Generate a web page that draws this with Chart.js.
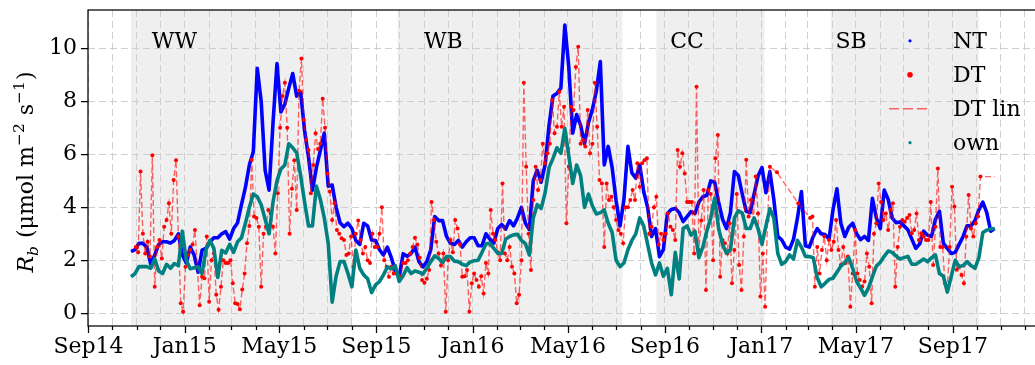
<!DOCTYPE html>
<html>
<head>
<meta charset="utf-8">
<script src="https://cdn.jsdelivr.net/npm/chart.js@4.4.1/dist/chart.umd.min.js"></script>
<style>
  html, body { margin: 0; padding: 0; background: #fff; overflow: hidden; width: 1035px; height: 365px; }
  canvas { display: block; }
</style>
</head>
<body>
<canvas id="rb" width="1044" height="365"></canvas>
<script>
// ---- Daily-aggregated ecosystem respiration R_b, three partitioning methods ----

// first date of the NT / own / DT records; NT and own every 5 days, DT every 3 days
const seriesStart = '2014-10-25';
const lineStepDays = 5;
const dtStepDays = 3;
// DT lin is held flat from the last DT value to the end of the record
const dtLinEnd = '2017-10-24';

const ntValues = [
  2.33,2.4,2.64,2.64,2.5,1.85,2.2,2.6,2.7,2.7,
  2.65,2.75,3.0,2.2,1.9,2.5,2.2,1.55,2.38,2.45,
  2.7,2.85,2.85,3.0,3.08,2.8,3.2,3.41,4.1,4.75,
  5.6,6.1,9.25,8.0,5.4,4.65,7.2,9.43,7.6,7.9,
  8.5,9.05,8.2,8.35,6.9,5.9,4.65,5.5,6.15,6.8,
  4.8,4.84,4.0,3.42,3.27,3.4,3.2,2.75,2.6,3.4,
  3.3,2.77,2.75,2.4,2.2,2.5,2.1,1.6,1.38,2.25,
  2.15,2.25,2.5,1.95,1.75,1.95,2.4,3.65,3.5,3.5,
  2.9,2.64,2.6,2.75,2.5,2.7,2.85,2.85,2.55,2.55,
  3.0,2.8,2.65,3.2,3.35,3.18,3.5,3.3,3.6,4.0,
  3.4,3.16,5.0,5.4,4.95,5.6,7.1,8.2,8.3,8.5,
  10.88,9.3,6.8,7.5,7.1,6.4,7.2,7.7,8.4,9.5,
  5.6,6.3,5.5,4.25,3.3,4.3,6.3,5.3,5.1,5.6,
  4.6,4.0,2.9,3.2,2.14,2.4,3.77,3.92,3.96,3.8,
  3.46,3.65,3.84,3.77,4.2,4.4,4.45,5.0,4.95,4.2,
  3.55,3.2,3.8,5.35,5.2,4.5,3.85,3.8,4.5,5.18,
  5.5,4.55,5.35,4.3,2.9,2.77,2.5,2.42,2.8,3.6,
  4.6,2.55,2.5,2.9,3.2,3.0,2.97,2.8,3.9,4.7,
  3.4,2.9,3.25,3.4,3.0,2.78,2.9,2.75,4.34,3.6,
  3.2,4.65,4.3,3.6,3.42,3.45,3.3,3.15,2.8,2.45,
  2.62,3.1,2.95,2.9,3.55,3.85,2.64,2.45,2.26,2.3,
  2.6,2.9,3.3,3.3,3.5,3.9,4.2,3.8,3.1,3.2
];

const ownValues = [
  1.38,1.5,1.76,1.76,1.76,1.7,2.05,1.6,1.5,1.85,
  1.7,1.88,1.8,3.1,2.0,1.68,1.72,1.76,1.5,2.4,
  2.75,2.45,1.35,2.38,2.28,2.6,2.3,2.7,2.85,3.4,
  4.0,4.5,4.4,4.1,3.55,3.0,4.2,5.0,5.45,5.6,
  6.4,6.25,6.05,5.2,4.2,3.3,3.3,4.8,4.3,3.6,
  2.64,0.42,1.4,1.95,1.95,1.5,1.0,2.39,1.7,1.45,
  1.3,0.78,1.07,1.2,1.45,1.75,1.68,1.8,1.2,1.42,
  1.72,1.5,1.6,1.55,1.48,1.7,1.95,2.17,2.07,1.92,
  2.14,2.14,1.97,1.95,1.85,1.8,1.94,1.98,2.0,2.3,
  2.62,2.64,2.45,2.26,2.26,2.8,2.9,2.96,2.98,2.75,
  2.63,2.2,3.6,4.1,3.96,4.55,5.5,5.85,6.25,6.04,
  6.98,5.95,4.9,5.6,5.2,4.0,4.5,4.05,3.75,3.8,
  3.9,3.4,3.05,2.0,1.76,1.9,2.4,2.75,3.0,3.6,
  3.3,2.6,1.9,1.45,1.9,1.4,1.7,0.7,2.3,1.3,
  3.2,3.3,2.95,3.1,2.1,2.5,3.1,3.6,4.35,3.2,
  2.6,2.27,2.4,3.6,3.87,3.78,3.2,3.2,3.6,3.2,
  2.6,3.3,3.95,3.6,2.26,1.85,1.95,2.2,2.05,2.75,
  2.5,2.15,2.14,2.1,1.35,1.0,1.13,1.28,1.32,1.55,
  1.78,1.92,2.1,1.7,1.2,0.95,0.68,0.95,1.38,1.78,
  1.93,2.15,2.35,2.3,2.16,2.05,2.1,2.15,1.85,1.85,
  1.95,2.05,1.95,2.1,2.2,1.5,1.4,0.8,1.4,2.0,
  1.76,1.8,1.95,1.8,1.7,2.1,3.05,3.14,3.18,3.2
];

// null = no valid DT estimate on that day
const dtValues = [
  null,null,2.5,2.3,5.35,3.0,2.26,2.7,2.14,5.97,
  1.0,2.5,2.77,2.07,3.27,3.52,4.15,3.0,5.03,5.78,
  2.9,0.38,0.06,1.76,2.2,2.39,2.6,3.14,1.76,0.3,
  1.38,1.32,2.9,0.44,2.0,2.26,0.7,0.13,1.0,2.0,
  1.9,1.9,2.0,1.13,0.38,0.35,0.15,0.9,1.5,2.64,
  3.3,5.8,3.65,3.6,3.27,1.0,3.0,3.27,3.9,3.77,
  3.27,2.26,4.53,7.0,8.2,8.7,7.0,3.0,4.7,5.78,
  3.9,8.4,9.62,7.3,6.54,6.16,4.53,5.6,6.8,6.2,
  6.4,8.1,7.0,5.28,4.6,3.52,4.15,3.14,3.0,2.83,
  2.77,2.2,2.26,2.9,1.76,3.0,3.5,2.77,2.26,2.5,
  2.0,1.9,3.0,2.5,2.5,3.0,4.0,2.0,1.76,1.38,
  1.76,1.5,1.5,1.45,1.38,1.9,1.9,2.0,2.26,2.5,
  2.85,2.6,2.1,1.26,1.15,1.3,1.63,4.2,3.52,2.7,
  2.26,1.8,2.26,0.06,2.0,2.77,2.3,3.52,3.2,2.6,
  1.38,1.4,1.63,0.06,1.13,1.5,1.26,1.0,1.4,0.75,
  1.9,1.5,3.9,3.0,2.77,2.3,2.0,4.9,2.26,2.0,
  2.5,1.76,1.5,0.38,0.7,2.0,8.7,5.53,3.0,1.63,
  4.28,5.53,4.65,5.03,6.4,5.66,6.04,6.4,8.05,6.8,
  7.04,8.36,7.04,7.8,3.4,5.53,7.8,7.67,9.3,10.06,
  6.4,6.54,6.3,7.67,6.04,6.4,8.7,7.04,5.03,4.9,
  2.5,4.9,4.28,4.4,4.0,3.52,3.14,3.0,2.64,4.0,
  4.0,4.28,4.65,4.28,5.66,4.78,5.66,5.78,5.85,3.0,
  3.27,4.0,4.4,2.6,3.0,2.77,3.0,3.77,3.27,3.14,
  2.77,6.16,5.53,6.04,5.28,4.2,4.2,4.2,2.26,8.55,
  2.39,3.5,4.65,0.88,4.65,4.5,2.0,5.85,6.73,1.38,
  2.77,2.64,2.26,3.4,1.13,2.39,4.5,1.82,0.88,2.9,
  5.8,3.65,4.28,3.5,5.16,3.77,0.63,2.26,0.25,3.5,
  5.53,null,null,5.32,null,null,null,null,null,null,
  null,null,4.15,null,null,null,null,3.6,3.65,1.0,
  2.5,1.5,2.39,2.9,2.0,2.77,2.39,2.7,3.52,2.39,
  1.82,2.5,1.9,2.14,0.25,1.5,3.14,1.5,1.26,1.0,
  1.2,2.26,1.76,0.38,3.0,3.4,4.9,4.2,3.52,3.77,
  3.14,3.9,4.15,1.0,2.5,3.27,3.52,3.46,3.6,3.71,
  3.02,3.14,3.77,2.77,3.02,2.9,2.77,2.77,4.2,1.82,
  3.27,5.47,2.5,2.5,1.13,1.0,2.5,4.78,4.03,1.64,
  1.76,1.45,1.13,2.9,4.47,3.2,2.9,3.4,3.65,5.16
];

// crop periods (shaded)
const periodLabels = ['WW', 'WB', 'CC', 'SB'];
const periodStarts = ['2014-10-25', '2015-09-28', '2016-08-21', '2017-03-30'];
const periodEnds   = ['2015-08-01', '2016-07-09', '2017-01-05', '2017-10-04'];
const periodLabelDates = ['2014-12-19', '2015-11-25', '2016-09-29', '2017-04-25'];

// axis ticks
const xTickDates  = ['2014-09-01','2015-01-01','2015-05-01','2015-09-01','2016-01-01',
                     '2016-05-01','2016-09-01','2017-01-01','2017-05-01','2017-09-01'];
const xTickLabels = ['Sep14','Jan15','May15','Sep15','Jan16','May16','Sep16','Jan17','May17','Sep17'];
const yTicks = [0, 2, 4, 6, 8, 10];
const legendLabels = ['NT', 'DT', 'DT lin', 'own'];

// ---- helpers ----
const DAY_MS = 86400000;
const ORIGIN = Date.UTC(2014, 8, 1);
function dayOf(iso) {
  const [y, m, d] = iso.split('-').map(Number);
  return (Date.UTC(y, m - 1, d) - ORIGIN) / DAY_MS;
}
const startDay = dayOf(seriesStart);
const ntPts  = ntValues.map((v, i) => ({ x: startDay + i * lineStepDays, y: v }));
const ownPts = ownValues.map((v, i) => ({ x: startDay + i * lineStepDays, y: v }));
const dtPts  = dtValues.map((v, i) => ({ x: startDay + i * dtStepDays, y: v }));
let lastDt = null;
dtValues.forEach(v => { if (v !== null) lastDt = v; });
const dtLinPts = dtPts.concat([{ x: dayOf(dtLinEnd), y: lastDt }]);

// monthly ticks over the axis span
const monthTicks = [];
for (let y = 2014, m = 8; y < 2018; ) {
  const iso = `${y}-${String(m + 1).padStart(2, '0')}-01`;
  monthTicks.push({ value: dayOf(iso), major: xTickDates.includes(iso), iso });
  m++; if (m === 12) { m = 0; y++; }
}
const labelByDay = new Map(xTickDates.map((d, i) => [dayOf(d), xTickLabels[i]]));

const FONT = "'DejaVu Serif'";
const BLUE = '#0000ff', RED = '#ff0000', TEAL = '#008080';
const GRID = '#cfcfcf';

const periodShading = {
  id: 'periodShading',
  beforeDraw(chart) {
    const { ctx, chartArea: a, scales: { x } } = chart;
    ctx.save();
    ctx.fillStyle = '#efefef';
    periodLabels.forEach((_, i) => {
      const x0 = x.getPixelForValue(dayOf(periodStarts[i]));
      const x1 = x.getPixelForValue(dayOf(periodEnds[i]));
      ctx.fillRect(x0, a.top, x1 - x0, a.bottom - a.top);
    });
    ctx.restore();
  }
};

const frameAndText = {
  id: 'frameAndText',
  afterDatasetsDraw(chart) {
    const { ctx, chartArea: a, scales: { x, y } } = chart;
    ctx.save();
    // period names
    ctx.fillStyle = '#000';
    ctx.font = `22px ${FONT}`;
    ctx.textAlign = 'center';
    ctx.textBaseline = 'alphabetic';
    periodLabels.forEach((t, i) => {
      ctx.fillText(t, x.getPixelForValue(dayOf(periodLabelDates[i])), y.getPixelForValue(10));
    });

    // legend
    const mx = 910, tx = 953;
    const bases = [48.3, 82.3, 116.3, 150.2];
    ctx.textAlign = 'left';
    legendLabels.forEach((t, i) => {
      const my = bases[i] - 7.5;
      if (t === 'DT lin') {
        ctx.save();
        ctx.strokeStyle = 'rgba(255,0,0,0.6)';
        ctx.lineWidth = 1.6;
        ctx.setLineDash([10, 4]);
        ctx.beginPath(); ctx.moveTo(889, my); ctx.lineTo(930, my); ctx.stroke();
        ctx.restore();
      } else {
        const col = t === 'NT' ? BLUE : t === 'DT' ? RED : TEAL;
        const r = t === 'DT' ? 2.8 : 1.6;
        ctx.fillStyle = col;
        ctx.beginPath(); ctx.arc(mx, my, r, 0, Math.PI * 2); ctx.fill();
      }
      ctx.fillStyle = '#000';
      ctx.fillText(t, tx, bases[i]);
    });

    // frame and tick marks
    ctx.strokeStyle = '#000';
    ctx.lineWidth = 1.25;
    ctx.setLineDash([]);
    ctx.strokeRect(a.left, a.top, a.right - a.left, a.bottom - a.top);
    ctx.beginPath();
    monthTicks.forEach(t => {
      const px = Math.round(x.getPixelForValue(t.value)) + 0.5;
      ctx.moveTo(px, a.bottom);
      ctx.lineTo(px, a.bottom + (t.major ? 7 : 4));
    });
    yTicks.forEach(v => {
      const py = Math.round(y.getPixelForValue(v)) + 0.5;
      ctx.moveTo(a.left - 7, py);
      ctx.lineTo(a.left, py);
    });
    ctx.stroke();

    // y-axis title: R_b (μmol m^-2 s^-1)
    const parts = [
      ['R', `italic 22px ${FONT}`, 0],
      ['b', `italic 15.5px ${FONT}`, 4.5],
      [' (\u03bcmol m', `22px ${FONT}`, 0],
      ['\u22122', `15.5px ${FONT}`, -9],
      [' s', `22px ${FONT}`, 0],
      ['\u22121', `15.5px ${FONT}`, -9],
      [')', `22px ${FONT}`, 0]
    ];
    let total = 0;
    parts.forEach(p => { ctx.font = p[1]; total += ctx.measureText(p[0]).width + (p[2] ? 1 : 0); });
    ctx.translate(33, (a.top + a.bottom) / 2 + 4);
    ctx.rotate(-Math.PI / 2);
    ctx.textAlign = 'left';
    ctx.fillStyle = '#000';
    let cx = -total / 2;
    parts.forEach(p => {
      ctx.font = p[1];
      ctx.fillText(p[0], cx, p[2]);
      cx += ctx.measureText(p[0]).width + (p[2] ? 1 : 0);
    });
    ctx.restore();
  }
};

Chart.defaults.font.family = FONT;

new Chart(document.getElementById('rb'), {
  type: 'line',
  data: {
    datasets: [
      { label: 'own', data: ownPts, borderColor: TEAL, borderWidth: 3.6, pointRadius: 0,
        borderJoinStyle: 'round', tension: 0, order: 0 },
      { label: 'DT', data: dtPts, showLine: false, pointRadius: 2, pointBorderWidth: 0,
        pointBackgroundColor: RED, order: 1 },
      { label: 'DT lin', data: dtLinPts, borderColor: 'rgba(255,0,0,0.6)', borderWidth: 1.4,
        borderDash: [6, 3], pointRadius: 0, spanGaps: true, tension: 0, order: 2 },
      { label: 'NT', data: ntPts, borderColor: BLUE, borderWidth: 3.6, pointRadius: 0,
        borderJoinStyle: 'round', tension: 0, order: 3 }
    ]
  },
  options: {
    responsive: false,
    animation: false,
    events: [],
    layout: { padding: { top: 10, right: 0, bottom: 0, left: 0 } },
    plugins: { legend: { display: false }, tooltip: { enabled: false } },
    scales: {
      x: {
        type: 'linear',
        min: -0.6,
        max: 1206.5,
        afterBuildTicks(scale) { scale.ticks = monthTicks.map(t => ({ value: t.value })); },
        afterFit(scale) { scale.height = 39; scale.paddingLeft = 0; scale.paddingRight = 0; },
        grid: { color: GRID, lineWidth: 1, drawTicks: false },
        border: { display: false, dash: [7, 4] },
        ticks: {
          autoSkip: false, maxRotation: 0, minRotation: 0, padding: 8,
          color: '#000', font: { family: FONT, size: 22 },
          callback: v => labelByDay.get(v) || ''
        }
      },
      y: {
        min: -0.48,
        max: 11.45,
        afterBuildTicks(scale) { scale.ticks = yTicks.map(v => ({ value: v })); },
        afterFit(scale) { scale.width = 88; scale.paddingTop = 0; scale.paddingBottom = 0; },
        grid: { color: GRID, lineWidth: 1, drawTicks: false },
        border: { display: false, dash: [7, 4] },
        ticks: {
          padding: 11, color: '#000', font: { family: FONT, size: 22 },
          callback: v => String(v)
        }
      }
    }
  },
  plugins: [periodShading, frameAndText]
});
</script>
</body>
</html>
